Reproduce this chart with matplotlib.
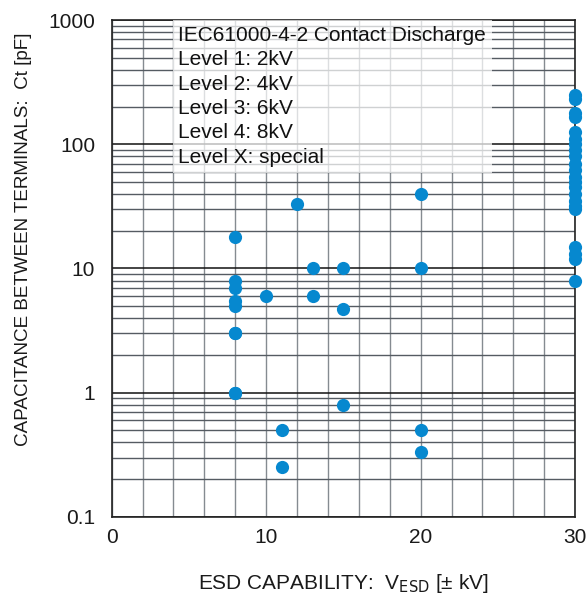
import numpy as np
import matplotlib
matplotlib.use("Agg")
import matplotlib.pyplot as plt
from matplotlib.ticker import FixedLocator, NullFormatter

plt.rcParams['font.family'] = ['Liberation Sans', 'DejaVu Sans']

# ESD capability [kV] vs terminal capacitance [pF]
esd_kv = [8, 8, 8, 8, 8, 8, 8, 8, 8,
          10, 11, 11, 12, 13, 13, 15, 15, 15,
          20, 20, 20, 20,
          30, 30, 30, 30, 30, 30, 30, 30, 30, 30, 30, 30, 30, 30, 30, 30, 30, 30, 30, 30, 30, 30]
cap_pf = [18, 8, 7, 5.5, 5, 3, 3, 1, 1,
          6, 0.5, 0.25, 33, 10, 6, 10, 4.7, 0.8,
          40, 10, 0.5, 0.33,
          250, 230, 180, 165, 125, 110, 100, 90, 80, 70, 62, 55, 50, 45, 40, 35, 32, 30, 15, 13, 12, 8]

legend_lines = ["IEC61000-4-2 Contact Discharge",
                "Level 1: 2kV",
                "Level 2: 4kV",
                "Level 3: 6kV",
                "Level 4: 8kV",
                "Level X: special"]

x_ticks = [0, 10, 20, 30]
y_ticks = [0.1, 1, 10, 100, 1000]
y_ticklabels = ["0.1", "1", "10", "100", "1000"]

fig = plt.figure(figsize=(5.88, 5.94), dpi=100)
ax = fig.add_axes([0.190, 0.130, 0.788, 0.836])

ax.set_yscale('log')
ax.set_xlim(0, 30)
ax.set_ylim(0.1, 1000)

ax.set_xticks(x_ticks)
ax.set_xticklabels([str(t) for t in x_ticks])
ax.set_yticks(y_ticks)
ax.set_yticklabels(y_ticklabels)
ax.xaxis.set_minor_locator(FixedLocator(np.arange(0, 31, 2)))
ax.xaxis.set_minor_formatter(NullFormatter())
minor_y = [m * 10.0 ** e for e in range(-1, 3) for m in range(2, 10)]
ax.yaxis.set_minor_locator(FixedLocator(minor_y))
ax.yaxis.set_minor_formatter(NullFormatter())

ax.tick_params(which='both', length=0, labelsize=15, colors='#1a1a1a')
ax.tick_params(axis='y', pad=12)
ax.tick_params(axis='x', pad=8)

# grid
ax.grid(True, which='major', axis='y', color='#111111', lw=1.1)
ax.grid(True, which='minor', axis='y', color='#555b62', lw=1.0)
ax.grid(True, which='both', axis='x', color='#858b91', lw=1.0)
ax.set_axisbelow(True)

for s in ax.spines.values():
    s.set_color('#222222')
    s.set_linewidth(1.2)

ax.plot(esd_kv, cap_pf, 'o', color='#0688CF', markersize=9.5,
        markeredgewidth=0, clip_on=False, zorder=5)

ax.text(4.3, 900, "\n".join(legend_lines), fontsize=15, va='top', ha='left',
        color='#111111', linespacing=1.36, zorder=4,
        bbox=dict(facecolor='white', edgecolor='none', alpha=0.72, pad=4))

ax.set_xlabel("ESD CAPABILITY:  V$_{\\mathrm{ESD}}$ [± kV]", fontsize=15,
              labelpad=18, color='#1a1a1a')
ax.set_ylabel("CAPACITANCE BETWEEN TERMINALS:  Ct [pF]", fontsize=13.6,
              color='#1a1a1a')
ax.yaxis.set_label_coords(-0.172, 0.558)

fig.savefig("out.png", dpi=100)
